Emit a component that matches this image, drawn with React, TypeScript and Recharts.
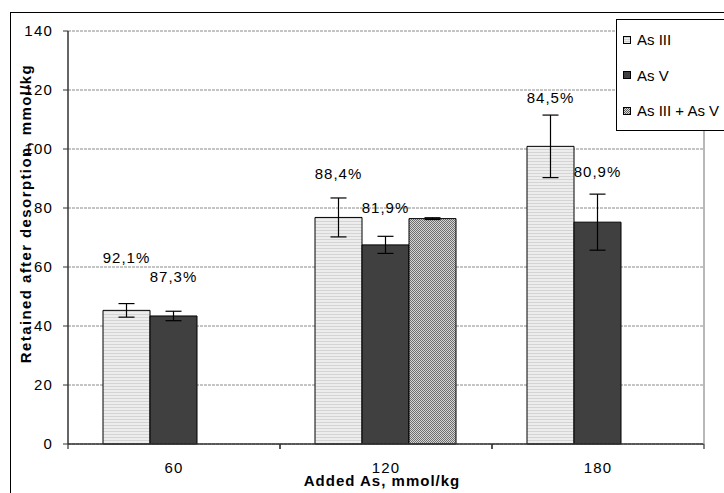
import React from 'react';
import { BarChart, Bar, XAxis, YAxis, CartesianGrid, ErrorBar, LabelList, Legend } from 'recharts';

const categories = ['60', '120', '180'];
const asIII = [45.3, 76.8, 100.9];
const asV = [43.4, 67.5, 75.2];
const asMix = [null, 76.4, null];
const errIII = [2.3, 6.6, 10.6];
const errV = [1.6, 2.9, 9.5];
const errMix = [null, 0.3, null];
const pctIII = ['92,1%', '88,4%', '84,5%'];
const pctV = ['87,3%', '81,9%', '80,9%'];
const pctMix = [null, '86,7%', null];
const pctIIIAt = [63.2, 91.6, 117.3];
const pctVAt = [56.5, 80.1, 92.3];
const pctMixAt = [null, 91.6, null];
const yTicks = [0, 20, 40, 60, 80, 100, 120, 140];
const seriesNames = ['As III', 'As V', 'As III + As V'];

const data = categories.map((c, i) => ({
  cat: c,
  asIII: asIII[i],
  asV: asV[i],
  asMix: asMix[i],
  errIII: errIII[i],
  errV: errV[i],
  errMix: errMix[i],
}));

const FONT = '"Liberation Sans", Arial, sans-serif';
const fills = ['url(#pIII)', '#404040', 'url(#pMix)'];

const makeLabel = (values: (number | null)[], texts: (string | null)[], at: (number | null)[]) => (p: any) => {
  const i = p.index;
  const txt = texts[i];
  const v = values[i];
  const h = at[i];
  if (!txt || v == null || h == null) return null;
  const vb = p.viewBox || p;
  const x = vb.x ?? p.x;
  const y = vb.y ?? p.y;
  const w = vb.width ?? p.width;
  const ht = vb.height ?? p.height;
  const base = y + ht;
  const ppu = ht / v;
  const cy = base - h * ppu;
  return (
    <text x={x + w / 2} y={cy} dy={5} textAnchor="middle" fontFamily={FONT} fontSize={15} letterSpacing={1} fill="#000">
      {txt}
    </text>
  );
};

const XTick = (props: any) => {
  const { x, y, payload } = props;
  const off = payload?.offset ?? 0;
  return (
    <g>
      <line x1={x - off} x2={x - off} y1={y} y2={y + 5} stroke="#333" strokeWidth={1.2} />
      <line x1={x + off} x2={x + off} y1={y} y2={y + 5} stroke="#333" strokeWidth={1.2} />
      <text x={x} y={y + 29} textAnchor="middle" fontFamily={FONT} fontSize={15} letterSpacing={1.2} fill="#000">
        {payload.value}
      </text>
    </g>
  );
};

const Swatch = ({ i }: { i: number }) => (
  <svg width={8} height={8} style={{ display: 'block' }}>
    <defs>
      <pattern id={`lgIII`} width={4} height={2} patternUnits="userSpaceOnUse">
        <rect width={4} height={2} fill="#ececec" />
        <rect y={1} width={4} height={1} fill="#d0d0d0" />
      </pattern>
      <pattern id={`lgMix`} width={2} height={2} patternUnits="userSpaceOnUse">
        <rect width={2} height={2} fill="#d8d8d8" />
        <rect width={1} height={1} fill="#606060" />
        <rect x={1} y={1} width={1} height={1} fill="#606060" />
      </pattern>
    </defs>
    <rect x={0.5} y={0.5} width={7} height={7} fill={i === 0 ? 'url(#lgIII)' : i === 1 ? '#404040' : 'url(#lgMix)'} stroke="#000" strokeWidth={1} />
  </svg>
);

const LegendBox = () => (
  <div style={{ width: 120, height: 108, border: '1px solid #000', background: '#fff', boxSizing: 'content-box', paddingTop: 2 }}>
    {seriesNames.map((n, i) => (
      <div key={n} style={{ height: 35.5, display: 'flex', alignItems: 'center', paddingLeft: 6 }}>
        <Swatch i={i} />
        <span style={{ marginLeft: 6, fontFamily: FONT, fontSize: 15, color: '#000', whiteSpace: 'nowrap' }}>{n}</span>
      </div>
    ))}
  </div>
);

export default function App() {
  return (
    <div style={{ position: 'absolute', left: 0, top: 0, width: 724, height: 493, overflow: 'hidden', background: '#fff' }}>
      <div style={{ position: 'absolute', left: 10, top: 12, width: 900, height: 700, border: '1px solid #000' }} />
      <div style={{ position: 'absolute', left: 0, top: 0 }}>
        <BarChart
          width={724}
          height={493}
          data={data}
          margin={{ top: 31, right: 0, bottom: 0, left: 0 }}
          barCategoryGap={35}
          barGap={0}
        >
          <defs>
            <pattern id="pIII" width={4} height={3} patternUnits="userSpaceOnUse">
              <rect width={4} height={3} fill="#ededed" />
              <rect y={2} width={4} height={1} fill="#d4d4d4" />
            </pattern>
            <pattern id="pMix" width={2} height={2} patternUnits="userSpaceOnUse">
              <rect width={2} height={2} fill="#d6d6d6" />
              <rect width={1} height={1} fill="#6e6e6e" />
              <rect x={1} y={1} width={1} height={1} fill="#6e6e6e" />
            </pattern>
          </defs>
          <CartesianGrid vertical={false} stroke="#8a8a8a" strokeDasharray="3 1" yAxisId="left" />
          <XAxis
            dataKey="cat"
            height={49}
            tickSize={0}
            tickMargin={0}
            tickLine={false}
            axisLine={{ stroke: '#333', strokeWidth: 1.5 }}
            tick={<XTick />}
            interval={0}
            label={(p: any) => {
              const vb = p.viewBox || {};
              return (
                <text
                  x={(vb.x ?? 68) + (vb.width ?? 636) / 2 - 4}
                  y={(vb.y ?? 444) + 42}
                  textAnchor="middle"
                  fontFamily={FONT}
                  fontSize={15}
                  fontWeight="bold"
                  letterSpacing={1}
                  fill="#000"
                >
                  Added As, mmol/kg
                </text>
              );
            }}
          />
          <YAxis
            yAxisId="left"
            width={68}
            domain={[0, 140]}
            ticks={yTicks}
            interval={0}
            tickSize={5}
            tickMargin={10}
            tickLine={{ stroke: '#333' }}
            axisLine={{ stroke: '#333', strokeWidth: 1.5 }}
            tick={{ fontFamily: FONT, fontSize: 15, fill: '#000', letterSpacing: 1.2 }}
            label={(p: any) => {
              const vb = p.viewBox || {};
              const cy = (vb.y ?? 31) + (vb.height ?? 413) / 2 - 24;
              return (
                <text
                  x={25}
                  y={cy}
                  transform={`rotate(-90 25 ${cy})`}
                  textAnchor="middle"
                  dominantBaseline="central"
                  fontFamily={FONT}
                  fontSize={15}
                  fontWeight="bold"
                  letterSpacing={1.4}
                  fill="#000"
                >
                  Retained after desorption, mmol/kg
                </text>
              );
            }}
          />
          <YAxis
            yAxisId="right"
            orientation="right"
            width={20}
            domain={[0, 140]}
            tick={false}
            tickLine={false}
            axisLine={{ stroke: '#a0a0a0', strokeWidth: 1.5 }}
          />
          <Legend
            layout="horizontal"
            verticalAlign="middle"
            align="center"
            content={<LegendBox />}
            wrapperStyle={{ position: 'absolute', left: 616, top: 19, width: 122, height: 112, bottom: 'auto', right: 'auto' }}
          />
          <Bar yAxisId="left" dataKey="asIII" name={seriesNames[0]} fill={fills[0]} stroke="#000" strokeWidth={1} isAnimationActive={false}>
            <ErrorBar dataKey="errIII" width={8} stroke="#000" strokeWidth={1.2} direction="y" />
            <LabelList dataKey="asIII" content={makeLabel(asIII, pctIII, pctIIIAt)} />
          </Bar>
          <Bar yAxisId="left" dataKey="asV" name={seriesNames[1]} fill={fills[1]} stroke="#000" strokeWidth={1} isAnimationActive={false}>
            <ErrorBar dataKey="errV" width={8} stroke="#000" strokeWidth={1.2} direction="y" />
            <LabelList dataKey="asV" content={makeLabel(asV, pctV, pctVAt)} />
          </Bar>
          <Bar yAxisId="left" dataKey="asMix" name={seriesNames[2]} fill={fills[2]} stroke="#000" strokeWidth={1} isAnimationActive={false}>
            <ErrorBar dataKey="errMix" width={8} stroke="#000" strokeWidth={1.2} direction="y" />
            <LabelList dataKey="asMix" content={makeLabel(asMix, pctMix, pctMixAt)} />
          </Bar>
        </BarChart>
      </div>
    </div>
  );
}
